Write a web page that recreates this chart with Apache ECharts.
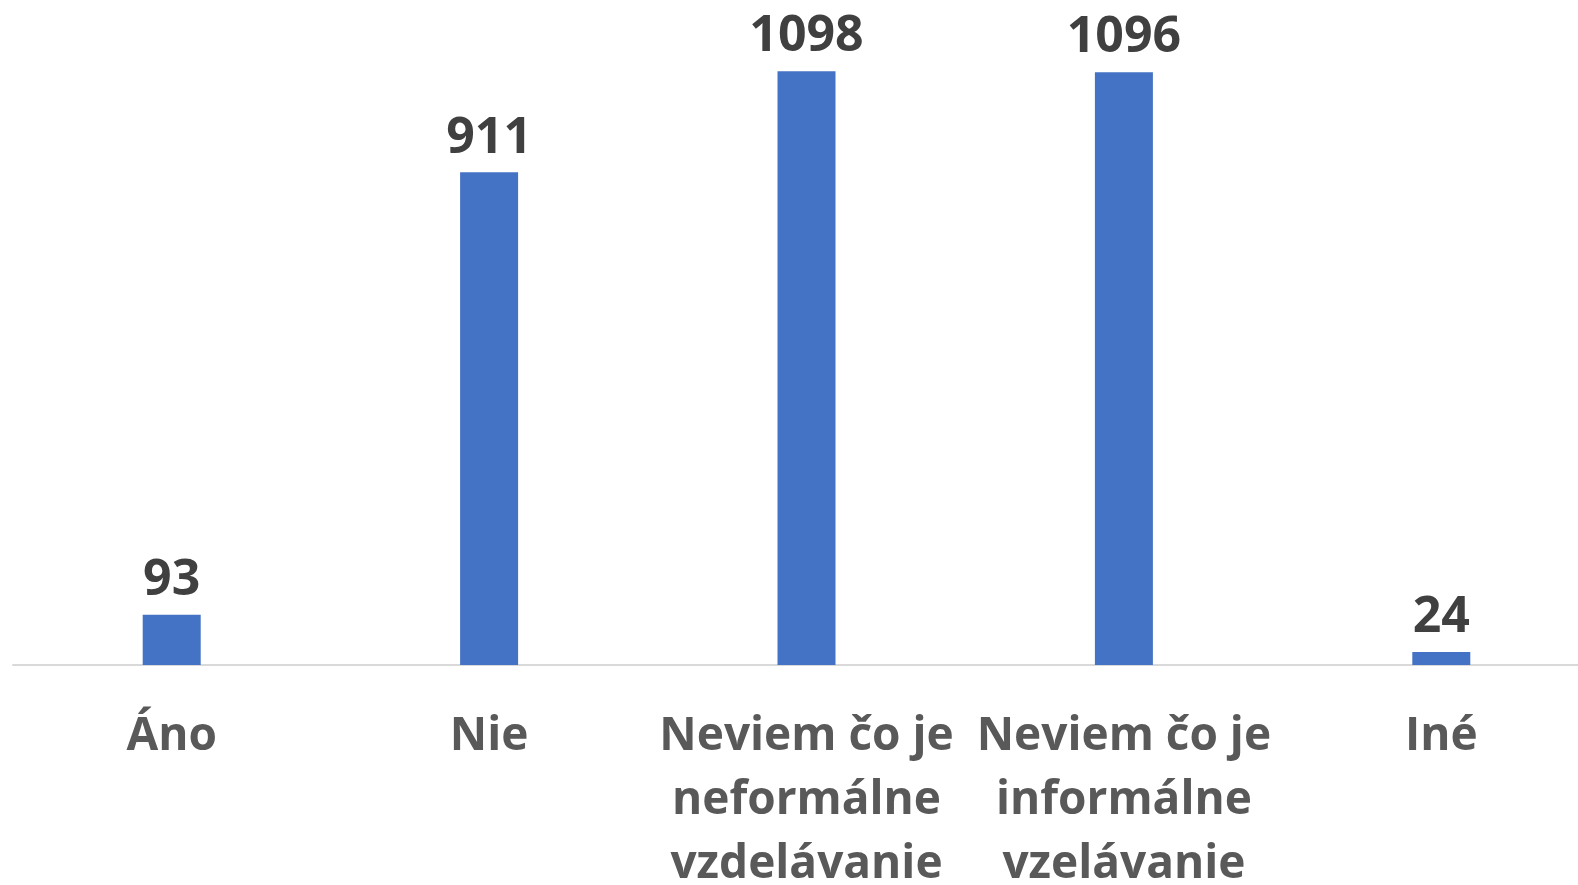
<!DOCTYPE html>
<html>
<head>
<meta charset="utf-8">
<script src="https://cdn.jsdelivr.net/npm/echarts@6/dist/echarts.min.js"></script>
<style>
  html, body { margin: 0; padding: 0; background: #fff; }
  #chart { width: 1578px; height: 885px; }
</style>
</head>
<body>
<div id="chart"></div>
<script>
const categories = ['Áno', 'Nie', 'Neviem čo je\nneformálne\nvzdelávanie', 'Neviem čo je\ninformálne\nvzelávanie', 'Iné']
const values = [93, 911, 1098, 1096, 24]

const chart = echarts.init(document.getElementById('chart'))
const option = {
  backgroundColor: '#ffffff',
  animation: false,
  grid: {
    left: 13,
    right: -22,
    top: 16,
    bottom: 220,
    containLabel: false,
    outerBoundsMode: 'none'
  },
  xAxis: {
    type: 'category',
    data: categories,
    axisLine: { show: true, lineStyle: { color: '#d9d9d9', width: 2 } },
    axisTick: { show: false },
    axisLabel: {
      interval: 0,
      margin: 40,
      color: '#595959',
      fontFamily: 'Open Sans',
      fontWeight: 'bold',
      fontSize: 46,
      lineHeight: 64
    }
  },
  yAxis: {
    type: 'value',
    min: 0,
    max: 1200,
    show: false,
    splitLine: { show: false }
  },
  series: [{
    type: 'bar',
    data: values,
    barWidth: 58,
    itemStyle: { color: '#4472c4' },
    label: {
      show: true,
      position: 'top',
      distance: 9,
      color: '#404040',
      fontFamily: 'Open Sans',
      fontWeight: 'bold',
      fontSize: 50
    }
  }]
}
chart.setOption(option)
</script>
</body>
</html>
